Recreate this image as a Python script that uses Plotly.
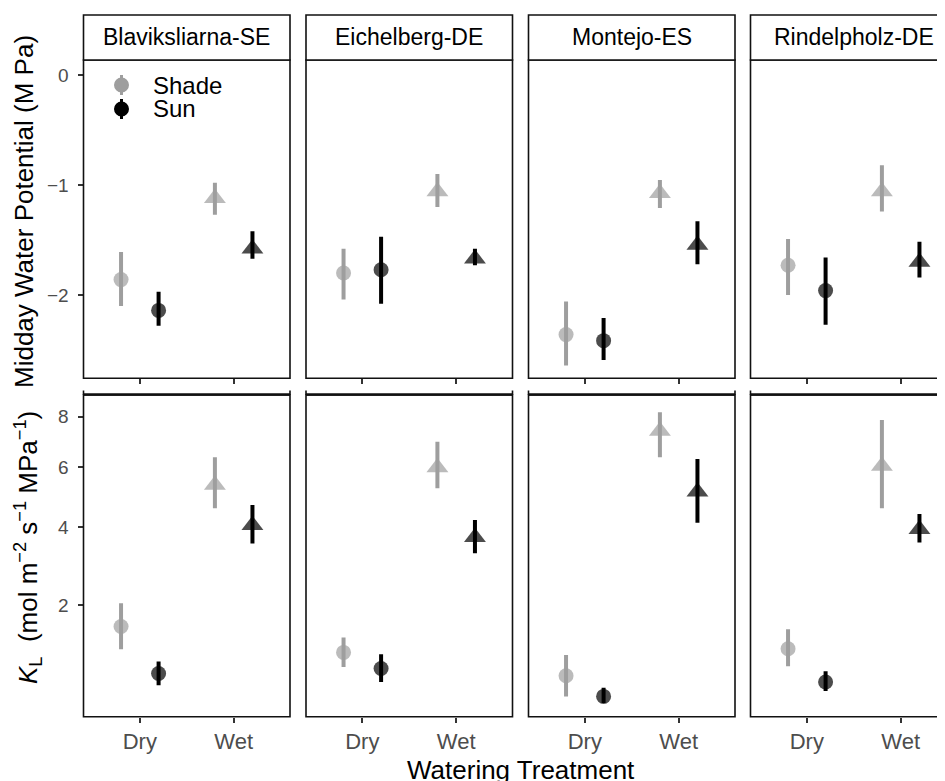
import numpy as np
import plotly.graph_objects as go

# ---------------- data ----------------
sites = ["Blaviksliarna-SE", "Eichelberg-DE", "Montejo-ES", "Rindelpholz-DE"]
treatments = ["Dry", "Wet"]
light = ["Shade", "Sun"]

# Midday water potential (MPa), per site: [Dry, Wet]
wp_shade    = [[-1.86, -1.12], [-1.80, -1.06], [-2.36, -1.075], [-1.73, -1.06]]
wp_shade_lo = [[-2.10, -1.27], [-2.04, -1.20], [-2.64, -1.21], [-2.00, -1.24]]
wp_shade_hi = [[-1.61, -0.98], [-1.58, -0.90], [-2.06, -0.955], [-1.49, -0.82]]
wp_sun      = [[-2.14, -1.58], [-1.77, -1.67], [-2.415, -1.545], [-1.96, -1.70]]
wp_sun_lo   = [[-2.28, -1.67], [-2.08, -1.73], [-2.59, -1.72], [-2.27, -1.84]]
wp_sun_hi   = [[-1.97, -1.42], [-1.47, -1.58], [-2.21, -1.33], [-1.66, -1.515]]

# Leaf hydraulic conductance K_L (mol m-2 s-1 MPa-1), per site: [Dry, Wet]
kl_shade    = [[1.57, 5.36], [1.12, 5.99], [0.78, 7.40], [1.18, 6.04]]
kl_shade_lo = [[1.17, 4.58], [0.90, 5.25], [0.53, 6.37], [0.91, 4.58]]
kl_shade_hi = [[2.04, 6.37], [1.37, 6.97], [1.08, 8.19], [1.52, 7.86]]
kl_sun      = [[0.81, 4.05], [0.88, 3.70], [0.53, 5.13], [0.70, 3.93]]
kl_sun_lo   = [[0.66, 3.52], [0.70, 3.25], [0.46, 4.13], [0.59, 3.55]]
kl_sun_hi   = [[0.98, 4.69], [1.09, 4.21], [0.63, 6.30], [0.84, 4.40]]

wp_ticks = [0, -1, -2]
kl_ticks = [2, 4, 6, 8]

# ---------------- styling ----------------
PAGE_W, PAGE_H = 945, 781
OX, OY = 8, 8                       # default page (body) margin
W, H = PAGE_W - OX, PAGE_H - OY
GREY = "#9e9e9e"
BLACK = "#000000"
FONT = "Liberation Sans, Arial, sans-serif"
colors = {"Shade": GREY, "Sun": BLACK}
dodge = {"Shade": -0.2, "Sun": 0.2}
symbols = ["circle", "triangle-up"]
sizes = [15, 19]

def py(p):  # page pixel from top -> paper y
    return 1 - (p - OY) / H

def px(p):
    return (p - OX) / W

panel_left = [83.5, 306.0, 528.5, 750.5]
panel_w = 206.5
ppu = panel_w / 2.2
top_dom = [py(378.3), py(60)]
bot_dom = [py(716.7), py(395)]
top_range = [-2.757, 0.136]
s_lo = np.sqrt(2) - (716.7 - 605) / 133.2
s_hi = np.sqrt(8) + (416.7 - 395) / 133.2
bot_range = [s_lo, s_hi]

fig = go.Figure()
layout = dict(
    width=W, height=H, margin=dict(l=0, r=0, t=0, b=0, autoexpand=False),
    paper_bgcolor="white", plot_bgcolor="white", showlegend=False,
    font=dict(family=FONT, color="#000"),
)
shapes = []
annotations = []

def axname(k):
    return "" if k == 1 else str(k)

for row in range(2):
    for c in range(4):
        k = row * 4 + c + 1
        a = axname(k)
        left = panel_left[c]
        right = min(left + panel_w, PAGE_W)
        xr = [0.4, 0.4 + (right - left) / ppu]
        xa = dict(domain=[px(left), px(right)], range=xr, anchor="y" + a,
                  tickvals=[1, 2], ticktext=treatments, ticks="outside",
                  ticklen=5, tickwidth=2, tickcolor="#333",
                  showticklabels=(row == 1), showgrid=False, zeroline=False,
                  showline=False, ticklabelstandoff=0,
                  tickfont=dict(size=22, color="#4d4d4d", family=FONT))
        if row == 0:
            ya = dict(domain=top_dom, range=top_range, tickvals=wp_ticks,
                      ticktext=["0", "\u22121", "\u22122"])
        else:
            ya = dict(domain=bot_dom, range=bot_range,
                      tickvals=list(np.sqrt(kl_ticks)),
                      ticktext=[str(t) for t in kl_ticks])
        ya.update(anchor="x" + a, showgrid=False, zeroline=False, showline=False,
                  ticks="outside" if c == 0 else "", ticklen=5, tickwidth=2,
                  tickcolor="#333", showticklabels=(c == 0), ticklabelstandoff=5,
                  tickfont=dict(size=19, color="#4d4d4d", family=FONT))
        layout["xaxis" + a] = xa
        layout["yaxis" + a] = ya

        # panel border
        x1 = panel_w / (right - left)
        shapes.append(dict(type="rect", xref="x" + a + " domain", yref="y" + a + " domain",
                           x0=0, x1=x1, y0=0, y1=1, line=dict(color="#111", width=1.6),
                           layer="above"))
        if row == 0:
            # strip
            shapes.append(dict(type="rect", xref="x" + a + " domain", yref="paper",
                               x0=0, x1=x1, y0=py(60), y1=py(15),
                               line=dict(color="#111", width=1.6), fillcolor="white"))
            annotations.append(dict(text=sites[c], xref="paper", yref="paper",
                                    x=px(left + panel_w / 2), y=py(37.5), showarrow=False,
                                    xanchor="center", yanchor="middle",
                                    font=dict(size=23, color="#000", family=FONT)))
        else:
            # remnant of clipped strip above bottom row
            shapes.append(dict(type="line", xref="x" + a + " domain", yref="paper",
                               x0=0, x1=x1, y0=py(394.5), y1=py(394.5),
                               line=dict(color="#111", width=2.6)))
            for xe in (0, x1):
                shapes.append(dict(type="line", xref="x" + a + " domain", yref="paper",
                                   x0=xe, x1=xe, y0=py(390.5), y1=py(395),
                                   line=dict(color="#111", width=1.6)))

        # data
        for lg in light:
            if row == 0:
                vals = wp_shade if lg == "Shade" else wp_sun
                lo = wp_shade_lo if lg == "Shade" else wp_sun_lo
                hi = wp_shade_hi if lg == "Shade" else wp_sun_hi
                yv = np.array(vals[c]); ylo = np.array(lo[c]); yhi = np.array(hi[c])
            else:
                vals = kl_shade if lg == "Shade" else kl_sun
                lo = kl_shade_lo if lg == "Shade" else kl_sun_lo
                hi = kl_shade_hi if lg == "Shade" else kl_sun_hi
                yv = np.sqrt(vals[c]); ylo = np.sqrt(lo[c]); yhi = np.sqrt(hi[c])
            xv = [i + 1 + dodge[lg] for i in range(len(treatments))]
            fig.add_trace(go.Scatter(
                x=xv, y=yv, mode="markers", name=lg,
                xaxis="x" + a, yaxis="y" + a,
                marker=dict(symbol=symbols, size=sizes, color=colors[lg],
                            line=dict(width=0)),
                error_y=dict(type="data", symmetric=False, array=yhi - yv,
                             arrayminus=yv - ylo, width=0, thickness=4,
                             color=colors[lg]),
                hoverinfo="skip"))

# legend (drawn manually, ggplot-style key inside first panel)
for i, lg in enumerate(light):
    cy = [85, 109][i]
    shapes.append(dict(type="line", xref="paper", yref="paper",
                       x0=px(121.5), x1=px(121.5), y0=py(cy - 10), y1=py(cy + 10),
                       line=dict(color=colors[lg], width=3)))
    shapes.append(dict(type="circle", xref="paper", yref="paper",
                       x0=px(114), x1=px(129), y0=py(cy + 7.5), y1=py(cy - 7.5),
                       fillcolor=colors[lg], line=dict(width=0)))
    annotations.append(dict(text=lg, xref="paper", yref="paper", x=px(151), y=py(cy),
                            xanchor="left", yanchor="middle", showarrow=False,
                            font=dict(size=24, color="#000", family=FONT)))

# axis titles
annotations.append(dict(text="Midday Water Potential (M Pa)", xref="paper", yref="paper",
                        x=px(24), y=py(212), textangle=-90, showarrow=False,
                        xanchor="center", yanchor="middle",
                        font=dict(size=26, color="#000", family=FONT)))
annotations.append(dict(text="<i>K</i><sub>L</sub>  (mol m<sup>\u22122</sup> s<sup>\u22121</sup> MPa<sup>\u22121</sup>)",
                        xref="paper", yref="paper",
                        x=px(28), y=py(548), textangle=-90, showarrow=False,
                        xanchor="center", yanchor="middle",
                        font=dict(size=26, color="#000", family=FONT)))
annotations.append(dict(text="Watering Treatment", xref="paper", yref="paper",
                        x=px(521), y=py(770), showarrow=False,
                        xanchor="center", yanchor="middle",
                        font=dict(size=26, color="#000", family=FONT)))

layout["shapes"] = shapes
layout["annotations"] = annotations
fig.update_layout(**layout)
fig.write_html("out.html")
